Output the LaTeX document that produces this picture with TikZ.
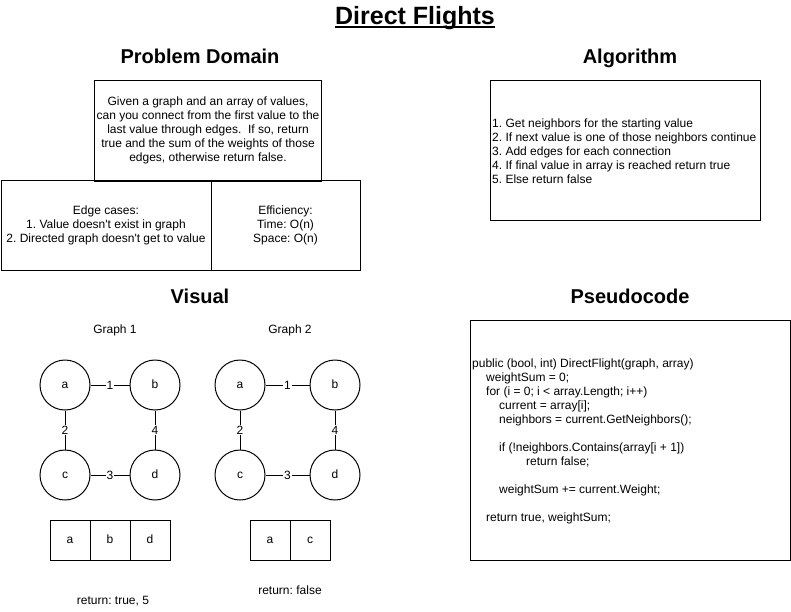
\documentclass[tikz,border=0pt]{standalone}
\usepackage{fontspec}
\setmainfont{Liberation Sans}[Ligatures=TeXOff]
\frenchspacing
\begin{document}
\begin{tikzpicture}[x=1pt,y=-1pt,
  every node/.style={font=\fontsize{12}{14}\selectfont},
  box/.style={draw, line width=1pt, inner sep=2pt, anchor=center},
  heading/.style={font=\fontsize{20}{24}\selectfont\bfseries, anchor=base, inner sep=0},
  vert/.style={circle, draw, line width=1pt, minimum size=50, inner sep=0, text height=8.6pt, text depth=2pt},
  elab/.style={fill=white, inner sep=1pt},
  cell/.style={draw, line width=1pt, minimum width=40, minimum height=40, inner sep=0, text height=8.6pt, text depth=2pt},
  plain/.style={inner sep=0}]
\fill[white] (0,0) rectangle (791,611);
\useasboundingbox (0,0) rectangle (791,611);

% title
\node[font=\fontsize{25}{30}\selectfont\bfseries, anchor=base, inner sep=0] (title) at (415,24) {Direct Flights};
\draw[line width=2pt] ([yshift=-3pt]title.base west) -- ([yshift=-3pt]title.base east);

% headings
\node[heading] (hpd) at (200,63) {Problem Domain};
\node[heading] (halg) at (630,63) {Algorithm};
\node[heading] (hvis) at (200,303) {Visual};
\node[heading] (hps) at (630,303) {Pseudocode};

% problem domain
\node[box, minimum width=224, minimum height=101, align=center] (prob) at (208,130.5)
  {Given a graph and an array of values,\\can you connect from the first value to the\\last value through edges.\ \ If so, return\\true and the sum of the weights of those\\edges, otherwise return false.};
\node[box, minimum width=210, minimum height=90, align=center] (edge) at (106,225)
  {Edge cases:\\1. Value doesn't exist in graph\\2. Directed graph doesn't get to value};
\node[box, minimum width=149, minimum height=90, align=center] (eff) at (285.5,225)
  {Efficiency:\\Time: O(n)\\Space: O(n)};

% algorithm
\node[box, minimum width=270, minimum height=140] (alg) at (625,150) {};
\node[plain, anchor=west, align=left] (algtext) at (492,151)
  {1. Get neighbors for the starting value\\2. If next value is one of those neighbors continue\\3. Add edges for each connection\\4. If final value in array is reached return true\\5. Else return false};

% pseudocode
\node[box, minimum width=320, minimum height=240] (pseudo) at (630,440) {};
\node[plain, anchor=west, align=left] (pstext) at (472,441)
  {public (bool, int) DirectFlight(graph, array)\\
   \hspace*{14pt}weightSum = 0;\\
   \hspace*{14pt}for (i = 0; i < array.Length; i++)\\
   \hspace*{27pt}current = array[i];\\
   \hspace*{27pt}neighbors = current.GetNeighbors();\\
   ~\\
   \hspace*{27pt}if (!neighbors.Contains(array[i + 1])\\
   \hspace*{54pt}return false;\\
   ~\\
   \hspace*{27pt}weightSum += current.Weight;\\
   ~\\
   \hspace*{14pt}return true, weightSum;};

% graph 1
\node[plain] (g1) at (115,330) {Graph 1};
\node[vert] (a1) at (65,385) {a};
\node[vert] (b1) at (155,385) {b};
\node[vert] (c1) at (65,475) {c};
\node[vert] (d1) at (155,475) {d};
\draw[line width=1pt] (a1) -- node[elab] {1} (b1);
\draw[line width=1pt] (a1) -- node[elab] {2} (c1);
\draw[line width=1pt] (c1) -- node[elab] {3} (d1);
\draw[line width=1pt] (b1) -- node[elab] {4} (d1);
\node[cell] (x1) at (70,540) {a};
\node[cell] (x2) at (110,540) {b};
\node[cell] (x3) at (150,540) {d};
\node[plain] (r1) at (113,601) {return: true, 5};

% graph 2
\node[plain] (g2) at (290,330) {Graph 2};
\node[vert] (a2) at (240,385) {a};
\node[vert] (b2) at (335,385) {b};
\node[vert] (c2) at (240,475) {c};
\node[vert] (d2) at (335,475) {d};
\draw[line width=1pt] (a2) -- node[elab] {1} (b2);
\draw[line width=1pt] (a2) -- node[elab] {2} (c2);
\draw[line width=1pt] (c2) -- node[elab] {3} (d2);
\draw[line width=1pt] (b2) -- node[elab] {4} (d2);
\node[cell] (y1) at (270,540) {a};
\node[cell] (y2) at (310,540) {c};
\node[plain] (r2) at (290,590) {return: false};
\end{tikzpicture}
\end{document}
